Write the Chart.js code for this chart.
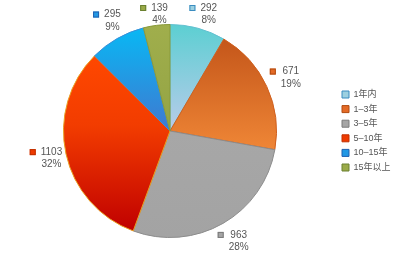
<!DOCTYPE html>
<html>
<head>
<meta charset="utf-8">
<script src="https://cdn.jsdelivr.net/npm/chart.js@4"></script>
<style>
html,body{margin:0;padding:0;background:#fff;}
#c{display:block;}
</style>
</head>
<body>
<canvas id="c" width="397" height="264"></canvas>
<script>
const categories = ['1年内', '1–3年', '3–5年', '5–10年', '10–15年', '15年以上'];
const values = [292, 671, 963, 1103, 295, 139];
const percentLabels = ['8%', '19%', '28%', '32%', '9%', '4%'];

const gradientStops = [
  [[0, '#5ccfd2'], [1, '#b9cbea']],
  [[0, '#c4561a'], [1, '#ef8636']],
  [[0, '#a7a7a7'], [1, '#a3a3a3']],
  [[0, '#ff4800'], [0.4, '#f23c00'], [1, '#c00000']],
  [[0, '#08b8f4'], [1, '#4078d0']],
  [[0, '#a0ae4c'], [1, '#94a444']]
];
const flatColors = ['#9cd0e0', '#e46a26', '#a5a5a5', '#ee3a00', '#2298e4', '#9aaa48'];
const borderColors = ['#62c0d0', '#d0601e', '#8c8c8c', '#e8a020', '#3a8ed8', '#8a9a3a'];
const markerBorders = ['#3a8cc0', '#b04a10', '#7a7a7a', '#c03000', '#2060b0', '#6a8030'];

const FONT = '"Liberation Sans", Arial, "Noto Sans CJK SC", sans-serif';

function sliceGradient(ctx) {
  const chart = ctx.chart;
  const area = chart.chartArea;
  const i = ctx.dataIndex;
  if (!area || i === undefined) return flatColors[i] || '#ccc';
  const total = values.reduce((a, b) => a + b, 0);
  let cum = 0;
  for (let k = 0; k < i; k++) cum += values[k];
  const a0 = -Math.PI / 2 + cum / total * 2 * Math.PI;
  const a1 = a0 + values[i] / total * 2 * Math.PI;
  const cy = (area.top + area.bottom) / 2;
  const r = (area.height - 1) / 2;
  const ys = [cy, cy + r * Math.sin(a0), cy + r * Math.sin(a1)];
  if (a0 < Math.PI / 2 && a1 > Math.PI / 2) ys.push(cy + r);
  if (a0 < 3 * Math.PI / 2 && a1 > 3 * Math.PI / 2) ys.push(cy - r);
  const y0 = Math.min(...ys), y1 = Math.max(...ys);
  const g = chart.ctx.createLinearGradient(0, y0, 0, y1 > y0 ? y1 : y0 + 1);
  gradientStops[i].forEach(s => g.addColorStop(s[0], s[1]));
  return g;
}

const outerLabels = {
  id: 'outerLabels',
  afterDatasetsDraw(chart) {
    const c = chart.ctx;
    const meta = chart.getDatasetMeta(0);
    c.save();
    c.font = '10px ' + FONT;
    c.textBaseline = 'middle';
    c.textAlign = 'center';
    meta.data.forEach((arc, i) => {
      const p = arc.getProps(['x', 'y', 'startAngle', 'endAngle', 'outerRadius'], true);
      const mid = (p.startAngle + p.endAngle) / 2;
      const cos = Math.cos(mid), sin = Math.sin(mid);
      const vt = String(values[i]), pt = percentLabels[i];
      const tw = Math.max(c.measureText(vt).width, c.measureText(pt).width);
      const W = 6 + 5 + tw;
      const rr = p.outerRadius + 20.5;
      const cx = p.x + rr * cos;
      let cy = p.y + rr * sin;
      if (cy - 6.25 < 8) cy = 8 + 6.25;
      const left = cx - W / 2;
      const tx = left + 11 + tw / 2;
      const vy = cy - 6.25, pyy = cy + 6.25;
      c.fillStyle = flatColors[i];
      c.fillRect(left, vy - 3, 6, 6);
      c.strokeStyle = markerBorders[i];
      c.lineWidth = 1;
      c.strokeRect(left + 0.5, vy - 2.5, 5, 5);
      c.fillStyle = '#555';
      c.fillText(vt, tx, vy);
      c.fillText(pt, tx, pyy);
    });
    c.restore();
  }
};

new Chart(document.getElementById('c'), {
  type: 'pie',
  data: {
    labels: categories,
    datasets: [{
      data: values,
      backgroundColor: sliceGradient,
      borderColor: borderColors,
      borderWidth: 1
    }]
  },
  options: {
    responsive: false,
    animation: false,
    devicePixelRatio: 1,
    layout: { padding: { top: 24, bottom: 26, left: 3.6, right: 3 } },
    plugins: {
      tooltip: { enabled: false },
      legend: {
        position: 'right',
        maxWidth: 57.6,
        labels: {
          boxWidth: 7,
          boxHeight: 7,
          padding: 5.6,
          color: '#555',
          font: { size: 9, family: FONT },
          generateLabels(chart) {
            return categories.map((name, i) => ({
              text: name,
              fillStyle: flatColors[i],
              strokeStyle: markerBorders[i],
              lineWidth: 1,
              fontColor: '#555',
              hidden: false,
              index: i
            }));
          }
        }
      }
    }
  },
  plugins: [outerLabels]
});
</script>
</body>
</html>
